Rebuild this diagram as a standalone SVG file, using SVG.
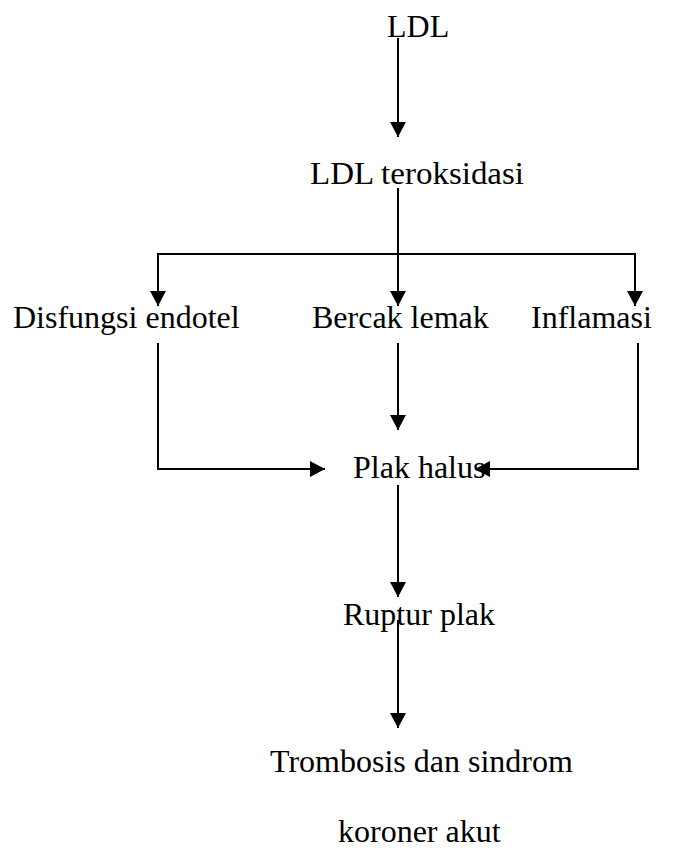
<svg xmlns="http://www.w3.org/2000/svg" width="683" height="850" viewBox="0 0 683 850">
<style>
  text { font-family: "Liberation Serif", "Times New Roman", serif; font-size: 32px; fill: #000; }
  .c { fill: none; stroke: #000; stroke-width: 2; }
</style>
<defs>
  <marker id="ah" markerUnits="userSpaceOnUse" markerWidth="15" markerHeight="16" refX="15" refY="8" orient="auto">
    <path d="M0,0 L15,8 L0,16 Z" fill="#000"/>
  </marker>
</defs>
<rect width="683" height="850" fill="#fff"/>
<g id="connectors">
  <line class="c" x1="398" y1="38" x2="398" y2="137" marker-end="url(#ah)"/>
  <line class="c" x1="398" y1="188" x2="398" y2="306" marker-end="url(#ah)"/>
  <polyline class="c" points="398,254 158,254 158,306" marker-end="url(#ah)"/>
  <polyline class="c" points="398,254 635,254 635,306" marker-end="url(#ah)"/>
  <line class="c" x1="398" y1="343" x2="398" y2="430" marker-end="url(#ah)"/>
  <polyline class="c" points="158,343 158,469 325,469" marker-end="url(#ah)"/>
  <polyline class="c" points="638,343 638,469 475,469" marker-end="url(#ah)"/>
  <line class="c" x1="398" y1="485" x2="398" y2="597" marker-end="url(#ah)"/>
  <line class="c" x1="398" y1="620" x2="398" y2="728" marker-end="url(#ah)"/>
</g>
<g id="n-ldl"><text x="387" y="37">LDL</text></g>
<g id="n-ldl-ox"><text x="310" y="184" textLength="214" lengthAdjust="spacingAndGlyphs">LDL teroksidasi</text></g>
<g id="n-disfungsi"><text x="13" y="328">Disfungsi endotel</text></g>
<g id="n-bercak"><text x="312" y="328">Bercak lemak</text></g>
<g id="n-inflamasi"><text x="531" y="328">Inflamasi</text></g>
<g id="n-plak"><text x="353" y="478">Plak halus</text></g>
<g id="n-ruptur"><text x="343" y="625">Ruptur plak</text></g>
<g id="n-trombosis">
  <text x="270" y="772">Trombosis dan sindrom</text>
  <text x="338" y="842">koroner akut</text>
</g>
</svg>
